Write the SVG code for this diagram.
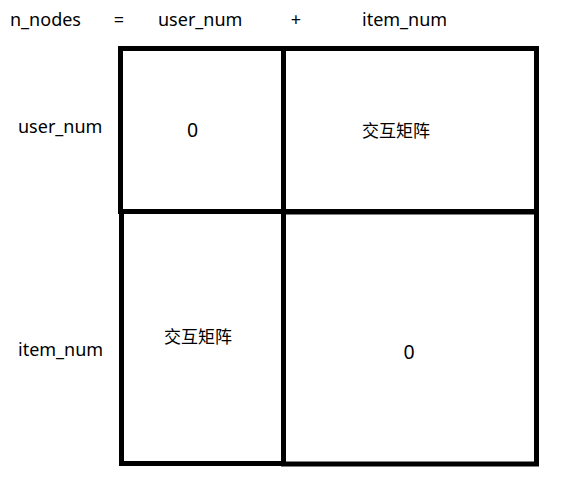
<svg xmlns="http://www.w3.org/2000/svg" width="561" height="485" viewBox="0 0 561 485">
<style>
.t{font-family:"Noto Sans","Noto Sans CJK SC","Liberation Sans",sans-serif;font-size:18px;fill:#000}
.d{font-family:"Noto Sans","Liberation Sans",sans-serif;font-size:19.5px;fill:#000}
.c{font-family:"Noto Sans CJK SC","Noto Sans",sans-serif;font-size:17px;fill:#000}
.cell{fill:#fff;stroke:#000;stroke-width:5}
</style>
<rect width="561" height="485" fill="#fff"/>
<g id="header">
<text class="t" x="10" y="26">n_nodes</text>
<text class="t" x="119" y="26" text-anchor="middle">=</text>
<text class="t" x="158" y="26">user_num</text>
<text class="t" x="296" y="26" text-anchor="middle">+</text>
<text class="t" x="362" y="26">item_num</text>
</g>
<g id="row-labels">
<text class="t" x="18" y="133">user_num</text>
<text class="t" x="18" y="356">item_num</text>
</g>
<g id="cell-tl">
<rect class="cell" x="120.5" y="48.5" width="163" height="163"/>
<text class="d" x="192.5" y="137" text-anchor="middle">0</text>
</g>
<g id="cell-tr">
<rect class="cell" x="283.5" y="48.5" width="253" height="163"/>
<text class="c" x="396" y="137" text-anchor="middle">交互矩阵</text>
</g>
<g id="cell-bl">
<rect class="cell" x="121.5" y="211.5" width="162" height="252"/>
<text class="c" x="198" y="343" text-anchor="middle">交互矩阵</text>
</g>
<g id="cell-br">
<rect class="cell" x="283.5" y="212" width="253" height="252"/>
<text class="d" x="409" y="359" text-anchor="middle">0</text>
</g>
<g id="connectors"></g>
</svg>
